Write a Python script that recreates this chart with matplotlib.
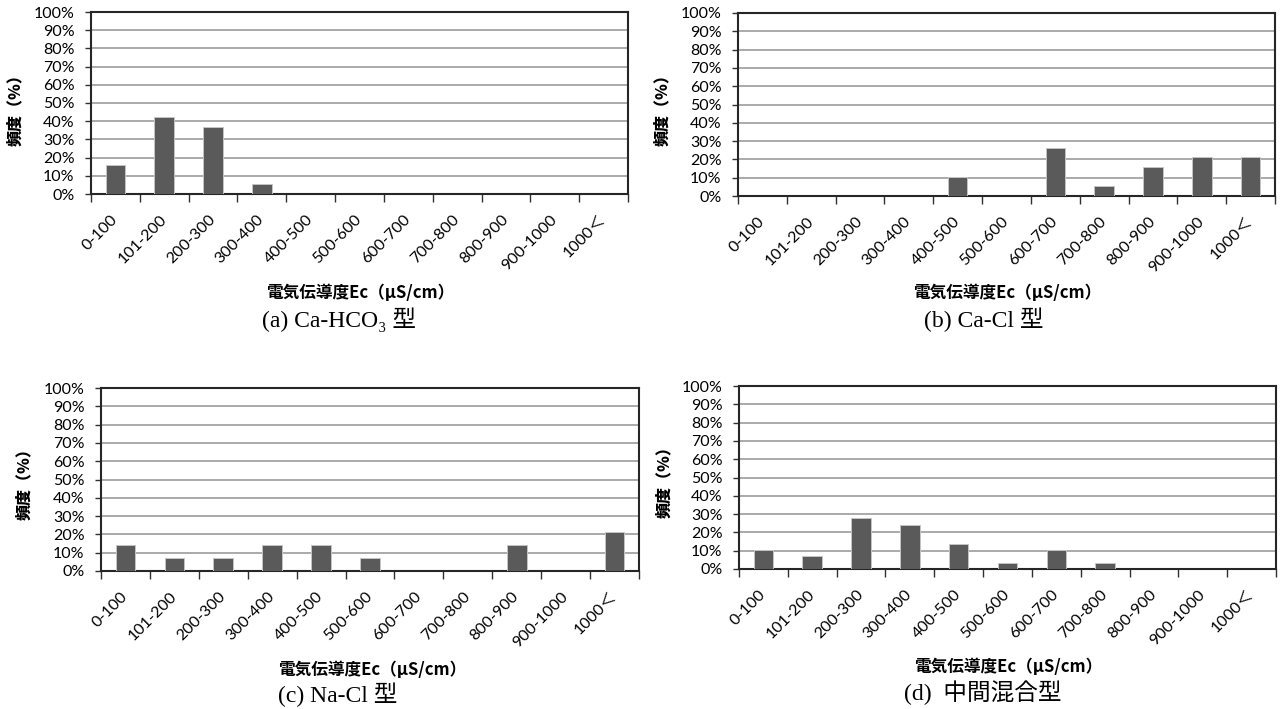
import matplotlib
matplotlib.use("Agg")
import matplotlib.pyplot as plt
import numpy as np

# Conductivity classes (μS/cm)
categories = ["0-100", "101-200", "200-300", "300-400", "400-500", "500-600",
              "600-700", "700-800", "800-900", "900-1000", "1000＜"]

# Frequency (%) per water type
freq_ca_hco3 = [15.8, 42.1, 36.8, 5.3, 0, 0, 0, 0, 0, 0, 0]
freq_ca_cl = [0, 0, 0, 0, 10.5, 0, 26.3, 5.3, 15.8, 21.1, 21.1]
freq_na_cl = [14.3, 7.1, 7.1, 14.3, 14.3, 7.1, 0, 0, 14.3, 0, 21.4]
freq_mixed = [10.3, 6.9, 27.6, 24.1, 13.8, 3.4, 10.3, 3.4, 0, 0, 0]

yticks = list(range(0, 101, 10))
ytick_labels = [f"{v}%" for v in yticks]

captions = ["(a) Ca-HCO\u2083 型", "(b) Ca-Cl 型", "(c) Na-Cl 型", "(d)  中間混合型"]
xlabel_text = "電気伝導度Ec（μS/cm）"
ylabel_text = "頻度（%）"

W, H = 1282, 709
fig = plt.figure(figsize=(W / 100, H / 100), dpi=100)

# axes boxes in pixels: left, top, right, bottom
boxes = [(91, 12, 628, 194), (738, 13, 1275, 196),
         (101, 388, 639, 571), (739, 386, 1276, 569)]
xlabel_pos = [(360, 293), (1007, 293), (372, 670), (1008, 667)]
caption_pos = [(339, 320), (984, 320), (338, 695), (983, 693)]
ylabel_pos = [(15, 106), (662, 106), (24, 480), (664, 478)]
series = [freq_ca_hco3, freq_ca_cl, freq_na_cl, freq_mixed]

tick_font = ["Lato", "Noto Sans CJK JP", "DejaVu Sans"]
cjk_bold = ["Noto Sans CJK JP", "DejaVu Sans"]
serif = ["Liberation Serif", "Noto Sans CJK JP", "DejaVu Sans"]

for i, vals in enumerate(series):
    l, t, r, b = boxes[i]
    ax = fig.add_axes([l / W, 1 - b / H, (r - l) / W, (b - t) / H])
    x = np.arange(len(categories))
    ax.bar(x, vals, width=0.40, color="#5a5a5a", edgecolor="#c4c4c4",
           linewidth=0.7, zorder=3)
    ax.set_xlim(-0.5, len(categories) - 0.5)
    ax.set_ylim(0, 100)
    ax.set_yticks(yticks)
    ax.set_yticklabels(ytick_labels, family=tick_font, fontsize=11.5)
    ax.yaxis.grid(True, color="#a4a4a4", linewidth=1.3, zorder=0)
    ax.set_axisbelow(True)
    ax.tick_params(axis="y", length=4, width=1, color="#303030", pad=8)

    ax.set_xticks(x)
    ax.set_xticklabels(categories, rotation=45, ha="right", va="center",
                       rotation_mode="anchor", family=tick_font, fontsize=11.5)
    ax.tick_params(axis="x", which="major", length=0, pad=17)
    ax.set_xticks(np.arange(-0.5, len(categories), 1.0), minor=True)
    ax.tick_params(axis="x", which="minor", length=6, width=1, color="#303030")

    for s in ax.spines.values():
        s.set_color("#262626")
        s.set_linewidth(1.5)

    fig.text(xlabel_pos[i][0] / W, 1 - xlabel_pos[i][1] / H, xlabel_text,
             ha="center", va="center", fontsize=12, fontweight="bold",
             family=cjk_bold)
    fig.text(ylabel_pos[i][0] / W, 1 - ylabel_pos[i][1] / H, ylabel_text,
             ha="center", va="center", rotation=90, fontsize=11.5,
             fontweight="heavy", family=cjk_bold)
    fig.text(caption_pos[i][0] / W, 1 - caption_pos[i][1] / H, captions[i],
             ha="center", va="center", fontsize=17, family=serif)

fig.savefig("out.png", dpi=100, facecolor="white")
